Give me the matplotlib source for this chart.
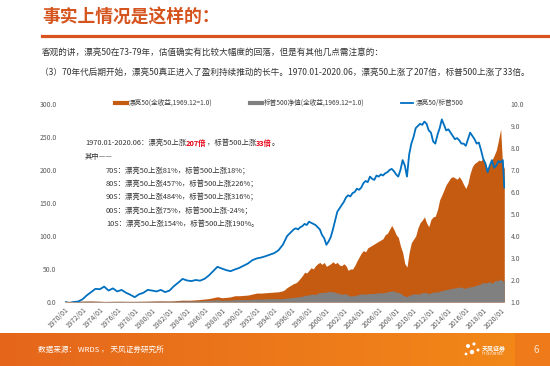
import pandas as pd
import numpy as np
import matplotlib
matplotlib.use("Agg")
import matplotlib.pyplot as plt
import matplotlib.dates as mdates
from matplotlib.lines import Line2D
from matplotlib.ticker import FormatStrFormatter

plt.rcParams['font.family'] = ['Noto Sans CJK SC', 'DejaVu Sans']

# sampling: half-yearly up to 1994, quarterly after, last point 2020/06
dates = list(pd.date_range("1970-01-01", "1994-07-01", freq="6MS")) + \
        list(pd.date_range("1995-01-01", "2020-04-01", freq="QS")) + \
        [pd.Timestamp("2020-06-01")]

# 漂亮50 total return (left axis)
nifty50 = [1.0, 0.9, 1.1, 1.2, 1.3, 1.5, 1.5, 1.3, 1.1, 0.8,
           0.9, 1.0, 1.0, 1.0, 0.9, 0.9, 0.9, 1.0, 1.1, 1.2,
           1.4, 1.6, 1.6, 1.5, 1.5, 1.8, 2.4, 2.8, 2.7, 2.8,
           3.3, 3.8, 4.5, 5.2, 6.5, 8.0, 6.5, 7.0, 7.8, 9.5,
           9.5, 10.0, 10.5, 12.0, 13.5, 13.5, 14.0, 14.5, 15.0, 15.5,
           17, 19, 22, 24,
           26, 28, 29, 32,
           36, 40, 45, 44,
           48, 52, 50, 55,
           58, 60, 57, 60,
           54, 56, 58, 61,
           58, 60, 56, 55,
           58, 55, 48, 50,
           50, 55, 62, 68,
           74, 78, 76, 82,
           84, 86, 88, 90,
           92, 94, 96, 102,
           104, 110, 116, 110,
           102, 98, 85, 75,
           58, 53, 75, 90,
           95, 100, 112, 120,
           124, 129, 120, 114,
           125, 129, 130, 140,
           155, 162, 170, 178,
           183, 188, 190, 188,
           186, 190, 185, 178,
           172, 180, 195, 205,
           210, 212, 215, 214,
           218, 210, 200, 208,
           215, 222, 230, 245,
           262, 200, 205]

# 标普500 (left axis)
sp500 = [1.0, 1.0, 1.05, 1.1, 1.15, 1.2, 1.3, 1.15, 1.05, 0.85,
         0.85, 1.0, 1.05, 1.1, 1.05, 1.0, 0.95, 1.0, 1.05, 1.1,
         1.2, 1.25, 1.4, 1.35, 1.25, 1.2, 1.55, 1.8, 1.75, 1.7,
         1.8, 2.0, 2.3, 2.6, 2.8, 3.4, 2.7, 2.9, 3.0, 3.5,
         3.6, 3.8, 3.6, 4.1, 4.4, 4.5, 4.7, 4.9, 5.0, 4.9,
         5.0, 5.5, 6.0, 6.3,
         6.7, 7.0, 7.2, 7.6,
         8.4, 8.6, 10.0, 10.4,
         10.5, 12.0, 12.0, 11.0,
         13.5, 14.0, 14.5, 14.5,
         15.0, 16.0, 15.5, 15.7,
         14.5, 13.5, 13.0, 11.5,
         12.5, 12.3, 10.5, 9.0,
         9.5, 9.5, 10.8, 11.2,
         12.3, 12.3, 12.0, 12.3,
         13.0, 12.8, 13.0, 13.4,
         13.8, 14.2, 13.8, 14.7,
         15.5, 16.0, 16.5, 16.8,
         15.0, 14.5, 13.5, 10.5,
         9.0, 8.2, 10.0, 11.4,
         12.0, 12.8, 11.5, 12.8,
         14.0, 14.5, 14.0, 12.5,
         14.0, 15.2, 14.8, 15.5,
         16.0, 17.5, 18.0, 18.8,
         19.5, 20.0, 21.0, 21.2,
         21.9, 22.5, 22.6, 21.0,
         21.0, 22.5, 23.0, 23.3,
         24.5, 25.5, 26.5, 27.5,
         30.0, 28.5, 29.5, 31.0,
         28.0, 31.5, 32.5, 32.5,
         35.0, 31.0, 33.5]

# 漂亮50/标普500 (right axis)
ratio = [1.00, 0.95, 1.00, 1.02, 1.12, 1.30, 1.45, 1.60, 1.58, 1.70,
         1.52, 1.62, 1.48, 1.55, 1.42, 1.33, 1.22, 1.35, 1.42, 1.55,
         1.52, 1.48, 1.55, 1.45, 1.52, 1.72, 1.88, 2.05, 1.98, 1.95,
         2.00, 1.97, 2.05, 2.20, 2.40, 2.60, 2.52, 2.45, 2.40, 2.48,
         2.55, 2.65, 2.75, 2.90, 2.98, 3.02, 3.08, 3.15, 3.22, 3.35,
         3.60, 3.80, 4.00, 4.10,
         4.20, 4.30, 4.35, 4.30,
         4.40, 4.45, 4.55, 4.50,
         4.65, 4.60, 4.55, 4.50,
         4.40, 4.30, 4.05, 3.90,
         3.60, 3.75, 3.95, 4.30,
         4.70, 5.10, 5.25, 5.40,
         5.55, 5.75, 5.85, 5.80,
         5.95, 6.00, 6.15, 6.10,
         6.20, 6.40, 6.50, 6.45,
         6.70, 6.60, 6.55, 6.75,
         6.70, 6.80, 6.75, 6.85,
         6.90, 7.00, 7.05, 6.95,
         6.80, 6.70, 7.00, 7.45,
         7.20, 6.70, 7.70, 8.20,
         8.50, 8.90, 9.00, 9.10,
         9.05, 9.20, 9.10, 8.80,
         8.70, 8.30, 8.20, 8.60,
         8.90, 9.30, 9.05, 8.80,
         8.85, 8.70, 8.55, 8.40,
         8.45, 8.35, 8.20, 8.20,
         8.10, 8.40, 8.70, 8.55,
         8.40, 8.20, 8.25, 7.90,
         7.50, 7.30, 6.90, 7.20,
         7.45, 7.10, 7.20, 7.40,
         7.35, 7.45, 6.20]

tick_years = list(range(1970, 2021, 2))

orange = '#C55A11'
gray = '#808080'
blue = '#0070C0'
txt = '#333333'

fig = plt.figure(figsize=(5.5, 3.66), dpi=100)

# header
fig.text(42/550, 1-18/366, "事实上情况是这样的：", fontsize=12.8, fontweight='bold',
         color='#D5531D', va='center')
fig.add_artist(Line2D([42/550, 1.0], [1-36/366, 1-36/366], lw=2.3, color='#D9531E'))
fig.text(42/550, 1-52/366, "客观的讲，漂亮50在73-79年，估值确实有比较大幅度的回落，但是有其他几点需注意的：",
         fontsize=6.2, color=txt, va='center')
fig.text(40/550, 1-72/366, "（3）70年代后期开始，漂亮50真正进入了盈利持续推动的长牛。1970.01-2020.06，漂亮50上涨了207倍，标普500上涨了33倍。",
         fontsize=6.2, color=txt, va='center')

# chart
ax = fig.add_axes([65/550, 1-302/366, 440/550, 198/366])
ax.fill_between(dates, 0, nifty50, color=orange, lw=0)
ax.fill_between(dates, 0, sp500, color=gray, lw=0)
ax.set_ylim(0, 300)
ax.set_yticks(np.arange(0, 301, 50))
ax.yaxis.set_major_formatter(FormatStrFormatter('%.1f'))
ax.set_xlim(pd.Timestamp("1970-01-01"), pd.Timestamp("2020-07-01"))
ax.set_xticks([pd.Timestamp(f"{y}-01-01") for y in tick_years])
ax.xaxis.set_major_formatter(mdates.DateFormatter('%Y/%m'))
for lab in ax.get_xticklabels():
    lab.set_rotation(45)
    lab.set_ha('right')
    lab.set_rotation_mode('anchor')
ax.tick_params(axis='x', length=0, pad=3, labelsize=5.0, labelcolor='#595959')
ax.tick_params(axis='y', length=0, pad=6, labelsize=4.9, labelcolor='#595959')

ax2 = ax.twinx()
ax2.plot(dates, ratio, color=blue, lw=1.3)
ax2.set_ylim(1, 10)
ax2.set_yticks(np.arange(1, 11, 1))
ax2.yaxis.set_major_formatter(FormatStrFormatter('%.1f'))
ax2.tick_params(axis='y', length=0, pad=4, labelsize=4.9, labelcolor='#595959')
for a in (ax, ax2):
    for s in a.spines.values():
        s.set_visible(False)

handles = [Line2D([], [], color=orange, lw=3),
           Line2D([], [], color=gray, lw=3),
           Line2D([], [], color=blue, lw=1.3)]
labels = ["漂亮50(全收益,1969.12=1.0)", "标普500净值(全收益,1969.12=1.0)", "漂亮50/标普500"]
ax2.legend(handles, labels, loc='center', bbox_to_anchor=(0.526, 1-103/366),
           bbox_transform=fig.transFigure, ncol=3, frameon=False, fontsize=4.8,
           handlelength=1.8, handletextpad=0.4, columnspacing=5.5, labelcolor='#404040')

# annotation block
def rich(x, y, parts, size=5.3):
    s, c, w = parts[0]
    t = ax2.text(x, y, s, color=c, fontweight=w, fontsize=size, va='center',
                 transform=fig.transFigure)
    for s, c, w in parts[1:]:
        t = ax2.annotate(s, xy=(1, 0.5), xycoords=t, color=c, fontweight=w,
                         fontsize=size, va='center', ha='left')
    return t

red = '#E60012'
rich(85/550, 1-143/366, [("1970.01-2020.06：漂亮50上涨", txt, 'normal'),
                         ("207倍", red, 'bold'),
                         ("，标普500上涨", txt, 'normal'),
                         ("33倍", red, 'bold'),
                         ("。", txt, 'normal')])
rich(85/550, 1-157/366, [("其中——", txt, 'normal')])
decade_lines = ["70S：漂亮50上涨81%，标普500上涨18%；",
                "80S：漂亮50上涨457%，标普500上涨226%；",
                "90S：漂亮50上涨484%，标普500上涨316%；",
                "00S：漂亮50上涨75%，标普500上涨-24%；",
                "10S：漂亮50上涨154%，标普500上涨190%。"]
for i, s in enumerate(decade_lines):
    rich(106/550, 1-(171 + 13.3*i)/366, [(s, txt, 'normal')])

# footer band
axf = fig.add_axes([0, 0, 1, 33/366])
grad = np.linspace(0, 1, 256)
c0 = np.array([229, 102, 28]) / 255
c1 = np.array([243, 138, 24]) / 255
img = (c0[None, :] * (1 - grad[:, None]) + c1[None, :] * grad[:, None])[None, :, :]
axf.imshow(img, aspect='auto', extent=(0, 1, 0, 1))
axf.add_patch(plt.Rectangle((515/550, 0), 35/550, 1, color='#EE7A1A', lw=0))
axf.set_xlim(0, 1)
axf.set_ylim(0, 1)
axf.axis('off')
fig.text(38/550, 1-350/366, "数据来源： WRDS ， 天风证券研究所", fontsize=5.5,
         color='white', va='center')
# small logo
for dx, dy, r in [(468, 346, 2.0), (474, 344, 1.6), (472, 352, 2.2), (478, 350, 1.5), (466, 354, 1.4)]:
    fig.add_artist(matplotlib.patches.Ellipse((dx/550, 1-dy/366), 2*r/550, 2*r/366,
                                              color='white', lw=0))
fig.text(482/550, 1-348/366, "天风证券", fontsize=4.3, fontweight='bold', color='white', va='center')
fig.text(482/550, 1-354/366, "TF SECURITIES", fontsize=2.2, color='white', va='center')
fig.text(533/550, 1-350/366, "6", fontsize=7, color='#FCE3CC', va='center')

fig.savefig("out.png", dpi=100)
